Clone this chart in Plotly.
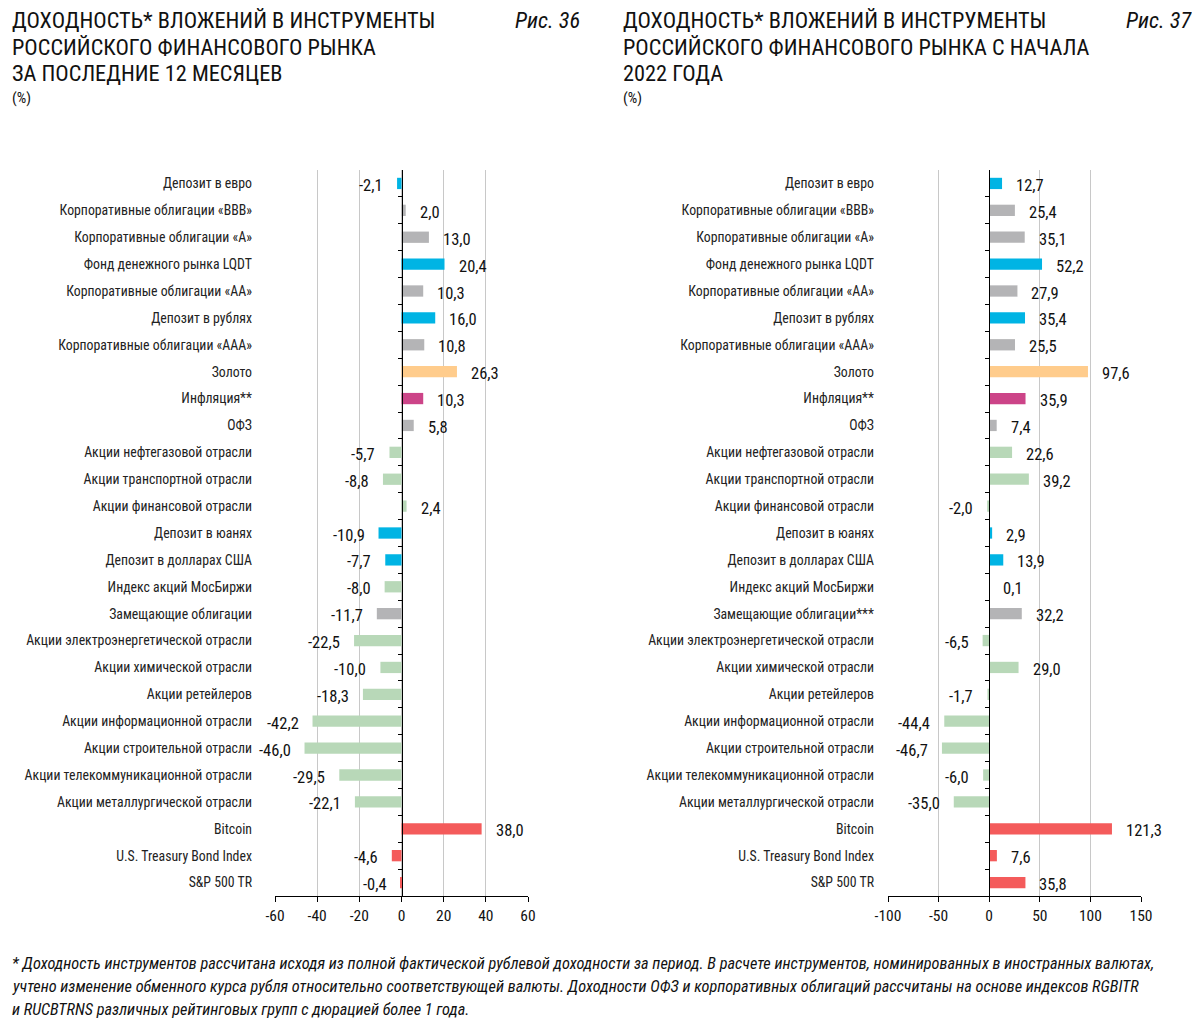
import plotly.graph_objects as go

# The page body adds an 8 px margin; the figure is sized and positioned to compensate.
OFF = 8
W, H = 1200 - OFF, 1019 - OFF
FONT = "Liberation Sans Narrow, Roboto Condensed, Roboto, sans-serif"

cats_36 = [
    "Депозит в евро", "Корпоративные облигации «BBB»", "Корпоративные облигации «A»",
    "Фонд денежного рынка LQDT", "Корпоративные облигации «AA»", "Депозит в рублях",
    "Корпоративные облигации «AAA»", "Золото", "Инфляция**", "ОФЗ",
    "Акции нефтегазовой отрасли", "Акции транспортной отрасли", "Акции финансовой отрасли",
    "Депозит в юанях", "Депозит в долларах США", "Индекс акций МосБиржи",
    "Замещающие облигации", "Акции электроэнергетической отрасли", "Акции химической отрасли",
    "Акции ретейлеров", "Акции информационной отрасли", "Акции строительной отрасли",
    "Акции телекоммуникационной отрасли", "Акции металлургической отрасли",
    "Bitcoin", "U.S. Treasury Bond Index", "S&P 500 TR",
]
cats_37 = [c if c != "Замещающие облигации" else "Замещающие облигации***" for c in cats_36]

vals_36 = [-2.1, 2.0, 13.0, 20.4, 10.3, 16.0, 10.8, 26.3, 10.3, 5.8,
           -5.7, -8.8, 2.4, -10.9, -7.7, -8.0, -11.7, -22.5, -10.0, -18.3,
           -42.2, -46.0, -29.5, -22.1, 38.0, -4.6, -0.4]
vals_37 = [12.7, 25.4, 35.1, 52.2, 27.9, 35.4, 25.5, 97.6, 35.9, 7.4,
           22.6, 39.2, -2.0, 2.9, 13.9, 0.1, 32.2, -6.5, 29.0, -1.7,
           -44.4, -46.7, -6.0, -35.0, 121.3, 7.6, 35.8]

groups = ["dep", "bond", "bond", "dep", "bond", "dep", "bond", "gold", "infl", "bond",
          "eq", "eq", "eq", "dep", "dep", "eq", "bond", "eq", "eq", "eq",
          "eq", "eq", "eq", "eq", "foreign", "foreign", "foreign"]
group_colors = {"dep": "#00B4E4", "bond": "#B4B4B6", "gold": "#FFCC8C",
                "infl": "#CC4488", "eq": "#B8D8B8", "foreign": "#F45B5B"}

ticks_36 = [-60, -40, -20, 0, 20, 40, 60]
ticks_37 = [-100, -50, 0, 50, 100, 150]

title_36 = ["ДОХОДНОСТЬ* ВЛОЖЕНИЙ В ИНСТРУМЕНТЫ", "РОССИЙСКОГО ФИНАНСОВОГО РЫНКА",
            "ЗА ПОСЛЕДНИЕ 12 МЕСЯЦЕВ"]
title_37 = ["ДОХОДНОСТЬ* ВЛОЖЕНИЙ В ИНСТРУМЕНТЫ", "РОССИЙСКОГО ФИНАНСОВОГО РЫНКА С НАЧАЛА",
            "2022 ГОДА"]
fig_no = ["Рис. 36", "Рис. 37"]
unit = "(%)"
footnote = [
    "* Доходность инструментов рассчитана исходя из полной фактической рублевой доходности за период. В расчете инструментов, номинированных в иностранных валютах,",
    "учтено изменение обменного курса рубля относительно соответствующей валюты. Доходности ОФЗ и корпоративных облигаций рассчитаны на основе индексов RGBITR",
    "и RUCBTRNS различных рейтинговых групп с дюрацией более 1 года.",
]

def px(x):
    return (x - OFF) / W

def py(y):
    return 1 - (y - OFF) / H

def fmt(v):
    return f"{v:.1f}".replace(".", ",")

fig = go.Figure()
colors = [group_colors[g] for g in groups]

ydom = [py(896), py(170)]
panels = [
    dict(cats=cats_36, vals=vals_36, ticks=ticks_36, xdom=[px(275), px(528)], xa="x", ya="y", zy="y3", standoff=22),
    dict(cats=cats_37, vals=vals_37, ticks=ticks_37, xdom=[px(888), px(1141)], xa="x2", ya="y2", zy="y4", standoff=13),
]

annotations = []
for i, p in enumerate(panels):
    n = len(p["cats"])
    fig.add_trace(go.Bar(
        x=p["vals"], y=p["cats"], orientation="h", marker=dict(color=colors, line=dict(width=0)),
        width=0.42, xaxis=p["xa"], yaxis=p["ya"], showlegend=False, hoverinfo="x+y",
    ))
    # invisible trace to host the zero axis
    fig.add_trace(go.Scatter(x=[0], y=[0], mode="markers", marker=dict(opacity=0),
                             xaxis=p["xa"], yaxis=p["zy"], showlegend=False, hoverinfo="skip"))
    for c, v in zip(p["cats"], p["vals"]):
        annotations.append(dict(
            x=v, y=c, xref=p["xa"], yref=p["ya"], text=fmt(v), showarrow=False,
            xanchor="left" if v >= 0 else "right", xshift=12 if v >= 0 else -12, yshift=-2,
            font=dict(size=16.5, color="#111", family=FONT),
        ))
    xmin, xmax = p["ticks"][0], p["ticks"][-1]
    zero_pos = p["xdom"][0] + (0 - xmin) / (xmax - xmin) * (p["xdom"][1] - p["xdom"][0])
    sfx = "" if i == 0 else "2"
    fig.layout["xaxis" + sfx] = dict(
        domain=p["xdom"], range=[xmin, xmax], tickvals=p["ticks"],
        ticktext=[str(t) for t in p["ticks"]], showgrid=True, gridcolor="#C8C8C8", gridwidth=1,
        zeroline=False, showline=True, linecolor="#000", linewidth=1, ticks="outside",
        ticklen=5, tickcolor="#000", tickfont=dict(size=15.5, color="#111", family=FONT),
        anchor=p["ya"], fixedrange=True,
    )
    fig.layout["yaxis" + sfx] = dict(
        domain=ydom, type="category", categoryorder="array", categoryarray=p["cats"],
        range=[n - 0.5, -0.5], showgrid=False, showline=False, ticks="",
        ticklabelstandoff=p["standoff"], tickfont=dict(size=13.8, color="#222", family=FONT),
        anchor=p["xa"], fixedrange=True,
    )
    fig.layout["yaxis" + ("3" if i == 0 else "4")] = dict(
        overlaying=p["ya"], anchor="free", position=zero_pos, side="left",
        range=[n - 0.5, -0.5], tickvals=[k + 0.5 for k in range(n - 1)],
        showticklabels=False, ticks="outside", ticklen=4, tickcolor="#000",
        showline=True, linecolor="#000", linewidth=1, showgrid=False, zeroline=False,
        fixedrange=True,
    )

title_font = dict(size=22.3, color="#111", family=FONT)
for x0, lines, no, xr in [(10, title_36, fig_no[0], 582), (621, title_37, fig_no[1], 1194)]:
    for j, t in enumerate(lines):
        annotations.append(dict(x=px(x0), y=py(20 + j * 26.5), xref="paper", yref="paper", text=t,
                                showarrow=False, xanchor="left", yanchor="middle", font=title_font))
    annotations.append(dict(x=px(x0), y=py(98), xref="paper", yref="paper", text=unit,
                            showarrow=False, xanchor="left", yanchor="middle",
                            font=dict(size=15, color="#111", family=FONT)))
    annotations.append(dict(x=px(xr), y=py(20), xref="paper", yref="paper", text=f"<i>{no}</i>",
                            showarrow=False, xanchor="right", yanchor="middle", font=title_font))

for j, t in enumerate(footnote):
    annotations.append(dict(x=px(10), y=py(963 + j * 23), xref="paper", yref="paper",
                            text=f"<i>{t}</i>", showarrow=False, xanchor="left", yanchor="middle",
                            font=dict(size=16.3, color="#111", family=FONT)))

fig.update_layout(
    width=W, height=H, margin=dict(l=0, r=0, t=0, b=0, autoexpand=False),
    paper_bgcolor="#FFFFFF", plot_bgcolor="#FFFFFF",
    font=dict(family=FONT, color="#111"), annotations=annotations, bargap=0.58,
)

fig.write_html("out.html")
